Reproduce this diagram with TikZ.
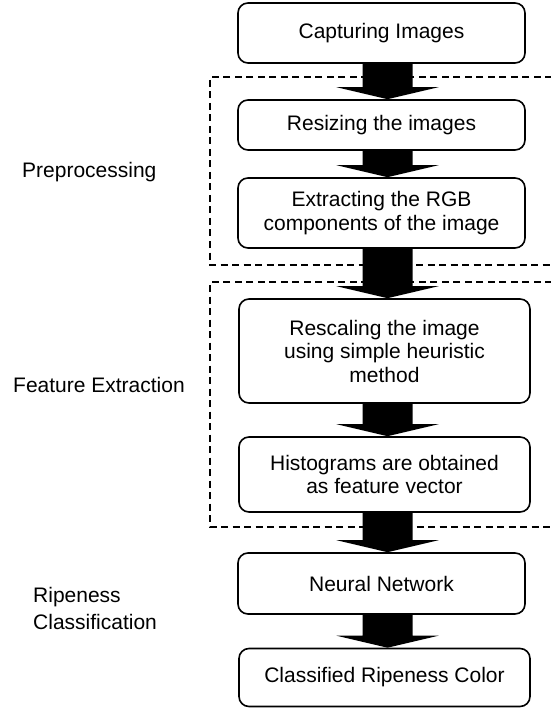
\documentclass[tikz,border=0pt]{standalone}
\usepackage{fontspec}
\setmainfont{Liberation Sans}
\usetikzlibrary{calc}
\tikzset{
  procbox/.style={draw=black, line width=1.6pt, rounded corners=10pt, fill=white,
    align=center, inner sep=0pt, font=\fontsize{21}{23.5}\selectfont},
  sidelabel/.style={anchor=west, align=left, inner sep=0pt, font=\fontsize{21}{27}\selectfont},
  groupline/.style={dashed, line width=1.5pt, dash pattern=on 7pt off 4.5pt},
}
\newcommand\fatarrow[2]{%
  \fill ($(#1.south -| ax)+(-25,0)$) -- ($(#2.north -| ax)+(-25,-12)$) --
        ($(#2.north -| ax)+(-51,-12)$) -- (#2.north -| ax) --
        ($(#2.north -| ax)+(51,-12)$) -- ($(#2.north -| ax)+(25,-12)$) --
        ($(#1.south -| ax)+(25,0)$) -- cycle;}
\begin{document}
\begin{tikzpicture}[x=1pt, y=-1pt]
\useasboundingbox (0,0) rectangle (550,708);
\coordinate (ax) at (387.5,0);

% group outlines
\coordinate (g1a) at (552,77);
\coordinate (g1b) at (210,77);
\coordinate (g1c) at (210,265);
\coordinate (g1d) at (552,265);
\draw[groupline] (g1a) -- (g1b) -- (g1c) -- (g1d);
\coordinate (g2a) at (552,282);
\coordinate (g2b) at (210,282);
\coordinate (g2c) at (210,527);
\coordinate (g2d) at (552,527);
\draw[groupline] (g2a) -- (g2b) -- (g2c) -- (g2d);

% boxes
\node[procbox, minimum width=287pt, minimum height=60pt] (cap) at (381.5,33) {Capturing Images};
\node[procbox, minimum width=287pt, minimum height=50pt] (res) at (381.5,125) {Resizing the images};
\node[procbox, minimum width=287pt, minimum height=70pt] (ext) at (381.5,213) {Extracting the RGB\\components of the image};
\node[procbox, minimum width=291pt, minimum height=104pt] (resc) at (384.5,351) {Rescaling the image\\using simple heuristic\\method};
\node[procbox, minimum width=291pt, minimum height=75pt] (hist) at (384.5,474.5) {Histograms are obtained\\as feature vector};
\node[procbox, minimum width=287pt, minimum height=61pt] (nn) at (381.5,583.5) {Neural Network};
\node[procbox, minimum width=291pt, minimum height=58pt] (cls) at (384.5,677.5) {Classified Ripeness Color};

% arrows
\fatarrow{cap}{res}
\fatarrow{res}{ext}
\fatarrow{ext}{resc}
\fatarrow{resc}{hist}
\fatarrow{hist}{nn}
\fatarrow{nn}{cls}

% side labels
\node[sidelabel] (lpre) at (22,172) {Preprocessing};
\node[sidelabel] (lfeat) at (13,385) {Feature Extraction};
\node[sidelabel] (lrip) at (33,608) {Ripeness\\Classification};
\end{tikzpicture}
\end{document}
